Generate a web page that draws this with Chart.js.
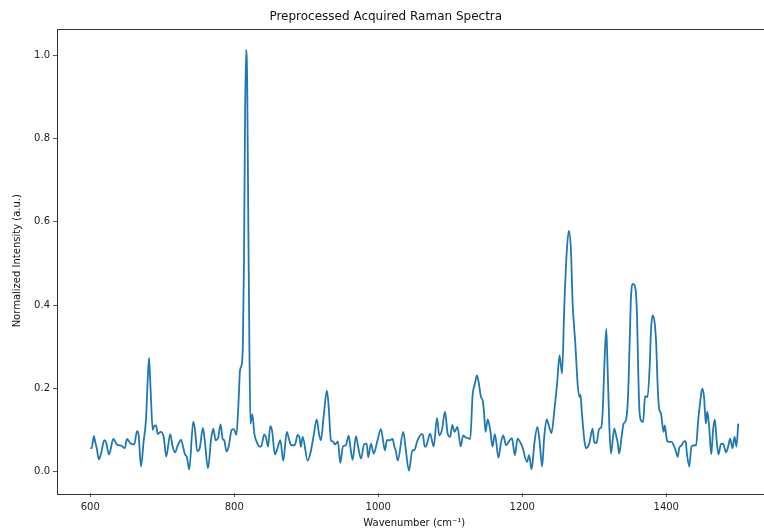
<!DOCTYPE html>
<html>
<head>
<meta charset="utf-8">
<script src="https://cdn.jsdelivr.net/npm/chart.js@4.4.1/dist/chart.umd.min.js"></script>
<style>
html, body { margin: 0; padding: 0; background: #fff; overflow: hidden; }
#wrap { width: 773px; height: 529px; position: relative; }
</style>
</head>
<body>
<div id="wrap"><canvas id="ramanChart"></canvas></div>
<script>
// spectrum (wavenumber in cm^-1, normalized intensity)
const wavenumber = [
600, 602, 605, 607, 609, 612, 615, 619.5, 622, 626, 632, 637, 643, 648, 651, 656, 661, 665, 667, 670.5,
674, 677.5, 680, 681.6, 683, 684.5, 686.7, 689, 691.4, 693.7, 698, 702, 705.6, 711, 714.4, 717.7, 722, 726, 729, 731.5,
734, 737.5, 743, 745.5, 748.5, 752, 756.5, 759, 763.5, 768, 771, 774, 777.5, 781, 784, 786, 789.3, 792.5, 796.4, 799.5,
803, 806, 808, 810.5, 812, 813.5, 815, 816.5, 818, 819.5, 821, 822.5, 825, 828, 831.5, 835, 837.5, 841.5, 844, 847,
850, 852.5, 856.5, 860, 864, 868, 873, 876, 879, 884, 888, 890.5, 892.6, 895, 902, 906, 910, 914.5, 918, 920.4,
924, 928.7, 931, 934.3, 937, 940, 944, 947.2, 951, 955, 959, 961.5, 964.4, 969, 972, 976, 980.5, 984, 986, 990,
993.6, 999, 1003.7, 1007, 1009.3, 1012, 1015.5, 1020, 1022.3, 1024.5, 1027, 1034.8, 1038, 1042.6, 1047.5, 1050, 1054, 1060, 1062, 1064.5,
1066, 1069, 1072, 1077, 1081.6, 1084.7, 1088.5, 1092.7, 1096.4, 1100, 1102.8, 1106, 1110, 1114.5, 1118, 1121, 1124.5, 1127.8, 1131, 1134,
1137, 1140, 1142.6, 1145, 1147, 1149, 1152, 1155.5, 1158.6, 1162, 1167, 1170.5, 1173.6, 1177.5, 1181, 1185.6, 1189.8, 1193.5, 1197, 1200,
1206.6, 1209.5, 1213, 1217, 1221, 1224, 1227.6, 1230.5, 1233.9, 1237, 1240.6, 1244.6, 1248.4, 1251.8, 1255.3, 1258.4, 1262, 1264.8, 1267.6, 1270,
1273.7, 1277, 1279.4, 1281, 1282.6, 1286.3, 1288.6, 1293, 1297.7, 1300, 1303, 1307, 1309.5, 1311.6, 1314, 1316.7, 1318.5, 1321, 1323.2, 1327.8,
1330.5, 1332.5, 1334.6, 1338, 1340.8, 1344, 1346.8, 1349, 1351, 1354, 1357.7, 1359.5, 1361, 1362.5, 1364.8, 1368, 1370.5, 1374, 1377, 1378.8,
1381, 1383.7, 1386, 1388, 1390, 1392.6, 1396.4, 1398, 1401, 1404, 1407.5, 1411, 1413.5, 1416, 1418, 1421.5, 1425, 1427, 1428.7, 1432,
1435, 1439, 1441.5, 1444, 1448, 1450, 1452.5, 1455, 1457, 1459.5, 1462.6, 1465, 1467.5, 1470, 1472.6, 1475.8, 1479, 1483, 1486, 1488.7,
1492, 1495, 1497.5, 1500
];
const intensity = [
0.056, 0.056, 0.085, 0.07, 0.056, 0.029, 0.043, 0.075, 0.07, 0.041, 0.078, 0.065, 0.062, 0.056, 0.078, 0.067, 0.065, 0.097, 0.09, 0.012,
0.07, 0.127, 0.229, 0.273, 0.229, 0.169, 0.1, 0.11, 0.111, 0.09, 0.095, 0.083, 0.036, 0.09, 0.06, 0.046, 0.065, 0.076, 0.059, 0.041,
0.036, 0.005, 0.12, 0.1, 0.049, 0.056, 0.105, 0.075, 0.008, 0.08, 0.103, 0.075, 0.08, 0.113, 0.078, 0.075, 0.048, 0.062, 0.1, 0.102,
0.088, 0.169, 0.243, 0.258, 0.308, 0.506, 0.852, 1.013, 0.931, 0.605, 0.308, 0.115, 0.138, 0.09, 0.07, 0.06, 0.06, 0.089, 0.082, 0.06,
0.109, 0.098, 0.041, 0.056, 0.075, 0.026, 0.095, 0.078, 0.063, 0.063, 0.088, 0.083, 0.059, 0.083, 0.026, 0.046, 0.083, 0.125, 0.088, 0.075,
0.13, 0.194, 0.159, 0.075, 0.072, 0.065, 0.072, 0.021, 0.06, 0.063, 0.086, 0.056, 0.028, 0.085, 0.06, 0.031, 0.066, 0.067, 0.034, 0.067,
0.043, 0.075, 0.102, 0.07, 0.051, 0.075, 0.075, 0.078, 0.06, 0.049, 0.026, 0.095, 0.056, 0.002, 0.051, 0.051, 0.072, 0.09, 0.088, 0.06,
0.06, 0.075, 0.091, 0.06, 0.129, 0.087, 0.1, 0.144, 0.091, 0.083, 0.112, 0.095, 0.107, 0.06, 0.087, 0.082, 0.08, 0.078, 0.183, 0.209,
0.231, 0.209, 0.179, 0.171, 0.14, 0.095, 0.125, 0.1, 0.06, 0.09, 0.033, 0.07, 0.087, 0.063, 0.071, 0.08, 0.039, 0.079, 0.071, 0.06,
0.023, 0.039, 0.005, 0.07, 0.107, 0.075, 0.012, 0.083, 0.125, 0.11, 0.092, 0.147, 0.211, 0.279, 0.235, 0.396, 0.533, 0.578, 0.533, 0.404,
0.308, 0.209, 0.179, 0.184, 0.147, 0.075, 0.056, 0.067, 0.103, 0.071, 0.068, 0.103, 0.105, 0.14, 0.252, 0.343, 0.252, 0.107, 0.043, 0.103,
0.085, 0.07, 0.043, 0.083, 0.115, 0.123, 0.175, 0.298, 0.417, 0.451, 0.432, 0.368, 0.249, 0.156, 0.123, 0.119, 0.181, 0.179, 0.252, 0.338,
0.375, 0.36, 0.308, 0.209, 0.152, 0.14, 0.095, 0.111, 0.075, 0.071, 0.071, 0.06, 0.048, 0.035, 0.056, 0.063, 0.073, 0.072, 0.043, 0.012,
0.06, 0.063, 0.062, 0.115, 0.179, 0.199, 0.179, 0.115, 0.144, 0.11, 0.041, 0.099, 0.125, 0.075, 0.041, 0.065, 0.067, 0.046, 0.06, 0.079,
0.056, 0.083, 0.06, 0.115
];
const xTicks = [600, 800, 1000, 1200, 1400];
const yTicks = [0, 0.2, 0.4, 0.6, 0.8, 1.0];

const points = wavenumber.map((w, i) => ({ x: w, y: intensity[i] }));

// matplotlib-style frame around the axes
const frame = {
  id: "frame",
  afterDraw(chart) {
    const a = chart.chartArea, c = chart.ctx;
    c.save();
    c.strokeStyle = "#333";
    c.lineWidth = 1;
    c.strokeRect(Math.round(a.left) + 0.5, Math.round(a.top) + 0.5, Math.round(a.right - a.left), Math.round(a.bottom - a.top));
    c.restore();
  }
};

const ctx = document.getElementById("ramanChart").getContext("2d");

new Chart(ctx, {
  type: "line",
  data: {
    datasets: [{
      data: points,
      borderColor: "#1f77b4",
      borderWidth: 1.8,
      pointRadius: 0,
      fill: false,
      cubicInterpolationMode: "monotone"
    }]
  },
  options: {
    responsive: true,
    maintainAspectRatio: false,
    animation: false,
    layout: { padding: { left: 0, right: 1.5, top: 0, bottom: 0 } },
    plugins: {
      legend: { display: false },
      tooltip: { enabled: false },
      title: {
        display: true,
        text: "Preprocessed Acquired Raman Spectra",
        color: "#111",
        font: { family: "DejaVu Sans", size: 12, weight: "normal" },
        padding: { top: 10, bottom: 4.1 }
      }
    },
    scales: {
      x: {
        type: "linear",
        min: 553.8,
        max: 1546.2,
        afterBuildTicks: (s) => { s.ticks = xTicks.map(v => ({ value: v })); },
        afterFit: (s) => { s.height = 36; },
        grid: { drawOnChartArea: false, drawTicks: true, tickLength: 4, color: "#333", lineWidth: 0.8 },
        border: { display: false },
        ticks: {
          color: "#222",
          padding: 4,
          maxRotation: 0,
          font: { family: "DejaVu Sans", size: 10 },
          callback: (v) => String(v)
        },
        title: {
          display: true,
          text: "Wavenumber (cm⁻¹)",
          color: "#111",
          font: { family: "DejaVu Sans", size: 10 },
          padding: { top: 1, bottom: 0 }
        }
      },
      y: {
        min: -0.0517,
        max: 1.0644,
        afterBuildTicks: (s) => { s.ticks = yTicks.map(v => ({ value: v })); },
        afterFit: (s) => { s.width = 57; },
        grid: { drawOnChartArea: false, drawTicks: true, tickLength: 4, color: "#333", lineWidth: 0.8 },
        border: { display: false },
        ticks: {
          color: "#222",
          padding: 3,
          font: { family: "DejaVu Sans", size: 10 },
          callback: (v) => v.toFixed(1)
        },
        title: {
          display: true,
          text: "Normalized Intensity (a.u.)",
          color: "#111",
          font: { family: "DejaVu Sans", size: 10 },
          padding: { top: 11, bottom: 0 }
        }
      }
    }
  },
  plugins: [frame]
});
</script>
</body>
</html>
